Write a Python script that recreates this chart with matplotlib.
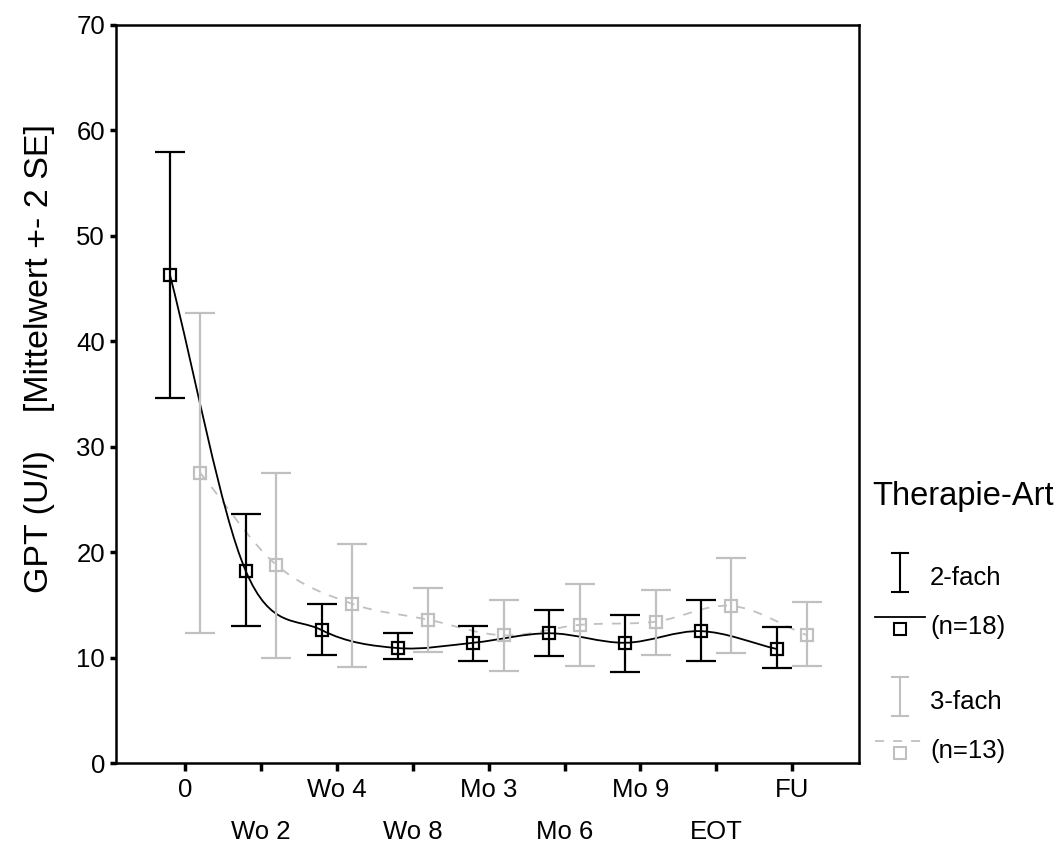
import numpy as np
import matplotlib
matplotlib.use('Agg')
import matplotlib.pyplot as plt
from matplotlib.path import Path
from matplotlib.patches import PathPatch

plt.rcParams['font.family'] = ['Liberation Sans', 'DejaVu Sans']

# Zeitpunkte
zeitpunkte = ['0', 'Wo 2', 'Wo 4', 'Wo 8', 'Mo 3', 'Mo 6', 'Mo 9', 'EOT', 'FU']

# 2-fach (n=18): Mittelwert, obere / untere Grenze (+- 2 SE)
mw_2fach = [46.3, 18.2, 12.6, 10.9, 11.4, 12.3, 11.4, 12.5, 10.8]
ob_2fach = [57.9, 23.6, 15.1, 12.3, 13.0, 14.5, 14.0, 15.5, 12.9]
un_2fach = [34.6, 13.0, 10.2, 9.9, 9.7, 10.1, 8.6, 9.7, 9.0]

# 3-fach (n=13)
mw_3fach = [27.5, 18.8, 15.1, 13.6, 12.1, 13.1, 13.4, 14.9, 12.1]
ob_3fach = [42.7, 27.5, 20.8, 16.6, 15.5, 17.0, 16.4, 19.4, 15.3]
un_3fach = [12.3, 10.0, 9.1, 10.5, 8.75, 9.2, 10.2, 10.4, 9.2]

SCHWARZ = '#000000'
GRAU = '#c0c0c0'


# glatte Verbindung (Catmull-Rom als Bezier-Pfad)
def glatt(xs, ys):
    n = len(xs)
    verts = [(xs[0], ys[0])]
    codes = [Path.MOVETO]
    for i in range(n - 1):
        m0 = ys[1] - ys[0] if i == 0 else (ys[i + 1] - ys[i - 1]) / 2
        m1 = ys[n - 1] - ys[n - 2] if i + 1 == n - 1 else (ys[i + 2] - ys[i]) / 2
        dx = xs[i + 1] - xs[i]
        verts += [(xs[i] + dx / 3, ys[i] + m0 / 3),
                  (xs[i + 1] - dx / 3, ys[i + 1] - m1 / 3),
                  (xs[i + 1], ys[i + 1])]
        codes += [Path.CURVE4] * 3
    return Path(verts, codes)


def serie(ax, x, mw, ob, un, farbe, ls):
    mw = np.array(mw)
    yerr = [mw - np.array(un), np.array(ob) - mw]
    ax.add_patch(PathPatch(glatt(list(x), list(mw)), fill=False, edgecolor=farbe,
                           lw=1.3, ls=ls, capstyle='butt'))
    ax.errorbar(x, mw, yerr=yerr, fmt='none', ecolor=farbe, elinewidth=1.6,
                capsize=11, capthick=1.6)
    ax.plot(x, mw, ls='none', marker='s', ms=9, mfc='none', mec=farbe, mew=1.6)


fig = plt.figure(figsize=(10.59, 8.47), dpi=100)
ax = fig.add_axes([116 / 1059, 84 / 847, 743 / 1059, 738.3 / 847])

x = np.arange(len(zeitpunkte))
serie(ax, x + 0.2, mw_3fach, ob_3fach, un_3fach, GRAU, (0, (5, 5)))
serie(ax, x - 0.2, mw_2fach, ob_2fach, un_2fach, SCHWARZ, '-')

ax.set_xlim(-0.91, 8.88)
ax.set_ylim(0, 70)
ax.set_yticks(range(0, 71, 10))
ax.set_xticks(x[::2])
ax.set_xticklabels(zeitpunkte[::2])
ax.set_xticks(x[1::2], minor=True)
ax.set_xticklabels(zeitpunkte[1::2], minor=True)
for s in ax.spines.values():
    s.set_linewidth(1.8)
ax.tick_params(axis='y', direction='out', length=4, width=2.5, labelsize=18.5, pad=4)
ax.tick_params(axis='x', which='major', direction='out', length=6, width=2.5,
               labelsize=18.5, pad=5)
ax.tick_params(axis='x', which='minor', direction='out', length=6, width=2.5,
               labelsize=18.5, pad=35)
ax.set_ylabel('GPT (U/l)    [Mittelwert +- 2 SE]', fontsize=24.5)
ax.yaxis.set_label_coords(-0.082, 0.548)

# Legende (Pixelkoordinaten der Abbildung)
lax = fig.add_axes([0, 0, 1, 1], zorder=-1)
lax.set_xlim(0, 1059)
lax.set_ylim(847, 0)
lax.axis('off')
lax.text(872, 497, 'Therapie-Art', fontsize=23.5, va='center', ha='left')
for farbe, y0, lab1, lab2, ls in [(SCHWARZ, 553, '2-fach', '(n=18)', '-'),
                                 (GRAU, 677, '3-fach', '(n=13)', (0, (5, 5)))]:
    lax.plot([900, 900], [y0, y0 + 39], color=farbe, lw=1.5)
    lax.plot([892, 908], [y0, y0], color=farbe, lw=1.5)
    lax.plot([892, 908], [y0 + 39, y0 + 39], color=farbe, lw=1.5)
    lax.text(930, y0 + 25, lab1, fontsize=18.5, va='center', ha='left')
    lax.plot([875, 925], [y0 + 64, y0 + 64], color=farbe, lw=1.3, ls=ls)
    lax.plot([900], [y0 + 76], ls='none', marker='s', ms=8, mfc='none', mec=farbe, mew=1.5)
    lax.text(930, y0 + 74, lab2, fontsize=18.5, va='center', ha='left')

fig.savefig('out.png', dpi=100)
